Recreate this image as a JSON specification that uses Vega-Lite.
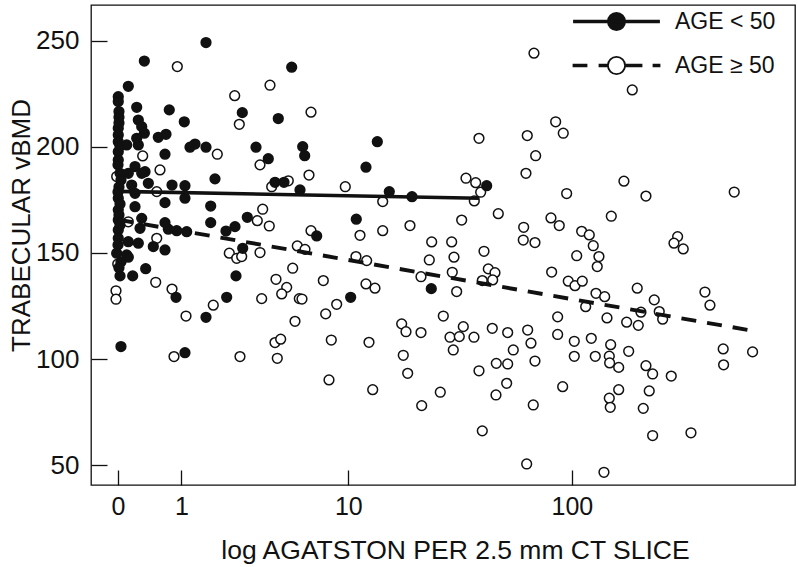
{
  "$schema": "https://vega.github.io/schema/vega-lite/v6.json",
  "width": 704,
  "height": 480,
  "autosize": {"type": "none"},
  "padding": {"left": 91, "top": 5, "right": 3, "bottom": 82},
  "background": "white",
  "config": {
    "view": {"stroke": "#111", "strokeWidth": 1.3},
    "font": "Liberation Sans",
    "axis": {"grid": false, "domain": false, "tickColor": "#111", "tickWidth": 1.3, "labelColor": "#111", "titleColor": "#111", "labelFont": "Liberation Sans", "titleFont": "Liberation Sans", "titleFontWeight": "normal"}
  },
  "datasets": {
    "fit": [
      {"agatston": 0, "vbmd": 179.0, "age": "AGE < 50"},
      {"agatston": 39.5, "vbmd": 175.8, "age": "AGE < 50"},
      {"agatston": 0, "vbmd": 165.7, "age": "AGE ≥ 50"},
      {"agatston": 595.6, "vbmd": 113.4, "age": "AGE ≥ 50"}
    ],
    "pts": [
      {"agatston": 0.317, "vbmd": 195.7, "age": "AGE ≥ 50"},
      {"agatston": 0.590, "vbmd": 189.1, "age": "AGE ≥ 50"},
      {"agatston": -0.015, "vbmd": 186.0, "age": "AGE ≥ 50"},
      {"agatston": 0.535, "vbmd": 178.9, "age": "AGE ≥ 50"},
      {"agatston": 0.123, "vbmd": 164.7, "age": "AGE ≥ 50"},
      {"agatston": 0.535, "vbmd": 156.9, "age": "AGE ≥ 50"},
      {"agatston": -0.003, "vbmd": 144.8, "age": "AGE ≥ 50"},
      {"agatston": 0.518, "vbmd": 136.2, "age": "AGE ≥ 50"},
      {"agatston": -0.023, "vbmd": 132.2, "age": "AGE ≥ 50"},
      {"agatston": -0.023, "vbmd": 128.2, "age": "AGE ≥ 50"},
      {"agatston": 0.914, "vbmd": 237.8, "age": "AGE ≥ 50"},
      {"agatston": 3.999, "vbmd": 229.0, "age": "AGE ≥ 50"},
      {"agatston": 2.485, "vbmd": 224.1, "age": "AGE ≥ 50"},
      {"agatston": 2.654, "vbmd": 210.6, "age": "AGE ≥ 50"},
      {"agatston": 1.912, "vbmd": 196.5, "age": "AGE ≥ 50"},
      {"agatston": 3.516, "vbmd": 191.5, "age": "AGE ≥ 50"},
      {"agatston": 5.017, "vbmd": 184.0, "age": "AGE ≥ 50"},
      {"agatston": 4.086, "vbmd": 181.2, "age": "AGE ≥ 50"},
      {"agatston": 3.641, "vbmd": 170.6, "age": "AGE ≥ 50"},
      {"agatston": 3.393, "vbmd": 165.2, "age": "AGE ≥ 50"},
      {"agatston": 3.963, "vbmd": 162.7, "age": "AGE ≥ 50"},
      {"agatston": 2.297, "vbmd": 149.9, "age": "AGE ≥ 50"},
      {"agatston": 2.558, "vbmd": 147.5, "age": "AGE ≥ 50"},
      {"agatston": 2.745, "vbmd": 148.3, "age": "AGE ≥ 50"},
      {"agatston": 3.516, "vbmd": 150.2, "age": "AGE ≥ 50"},
      {"agatston": 5.590, "vbmd": 153.3, "age": "AGE ≥ 50"},
      {"agatston": 5.291, "vbmd": 142.8, "age": "AGE ≥ 50"},
      {"agatston": 4.313, "vbmd": 137.6, "age": "AGE ≥ 50"},
      {"agatston": 4.921, "vbmd": 133.8, "age": "AGE ≥ 50"},
      {"agatston": 4.629, "vbmd": 130.7, "age": "AGE ≥ 50"},
      {"agatston": 3.594, "vbmd": 128.5, "age": "AGE ≥ 50"},
      {"agatston": 5.724, "vbmd": 128.5, "age": "AGE ≥ 50"},
      {"agatston": 0.809, "vbmd": 133.0, "age": "AGE ≥ 50"},
      {"agatston": 1.793, "vbmd": 125.4, "age": "AGE ≥ 50"},
      {"agatston": 1.099, "vbmd": 120.3, "age": "AGE ≥ 50"},
      {"agatston": 5.439, "vbmd": 117.8, "age": "AGE ≥ 50"},
      {"agatston": 4.259, "vbmd": 107.8, "age": "AGE ≥ 50"},
      {"agatston": 4.572, "vbmd": 109.4, "age": "AGE ≥ 50"},
      {"agatston": 0.848, "vbmd": 101.2, "age": "AGE ≥ 50"},
      {"agatston": 2.680, "vbmd": 101.2, "age": "AGE ≥ 50"},
      {"agatston": 4.383, "vbmd": 100.4, "age": "AGE ≥ 50"},
      {"agatston": 68.42, "vbmd": 244.1, "age": "AGE ≥ 50"},
      {"agatston": 6.565, "vbmd": 216.3, "age": "AGE ≥ 50"},
      {"agatston": 39.30, "vbmd": 204.0, "age": "AGE ≥ 50"},
      {"agatston": 63.97, "vbmd": 205.3, "age": "AGE ≥ 50"},
      {"agatston": 69.59, "vbmd": 195.8, "age": "AGE ≥ 50"},
      {"agatston": 63.14, "vbmd": 187.5, "age": "AGE ≥ 50"},
      {"agatston": 6.414, "vbmd": 186.7, "age": "AGE ≥ 50"},
      {"agatston": 9.670, "vbmd": 181.2, "age": "AGE ≥ 50"},
      {"agatston": 34.43, "vbmd": 185.2, "age": "AGE ≥ 50"},
      {"agatston": 38.01, "vbmd": 183.1, "age": "AGE ≥ 50"},
      {"agatston": 39.98, "vbmd": 178.6, "age": "AGE ≥ 50"},
      {"agatston": 37.47, "vbmd": 174.5, "age": "AGE ≥ 50"},
      {"agatston": 14.50, "vbmd": 174.2, "age": "AGE ≥ 50"},
      {"agatston": 47.78, "vbmd": 168.5, "age": "AGE ≥ 50"},
      {"agatston": 32.95, "vbmd": 165.5, "age": "AGE ≥ 50"},
      {"agatston": 61.70, "vbmd": 162.1, "age": "AGE ≥ 50"},
      {"agatston": 6.565, "vbmd": 160.5, "age": "AGE ≥ 50"},
      {"agatston": 11.36, "vbmd": 158.3, "age": "AGE ≥ 50"},
      {"agatston": 14.50, "vbmd": 160.5, "age": "AGE ≥ 50"},
      {"agatston": 19.33, "vbmd": 162.9, "age": "AGE ≥ 50"},
      {"agatston": 24.22, "vbmd": 155.2, "age": "AGE ≥ 50"},
      {"agatston": 29.75, "vbmd": 155.2, "age": "AGE ≥ 50"},
      {"agatston": 6.122, "vbmd": 151.7, "age": "AGE ≥ 50"},
      {"agatston": 61.45, "vbmd": 156.1, "age": "AGE ≥ 50"},
      {"agatston": 69.11, "vbmd": 154.9, "age": "AGE ≥ 50"},
      {"agatston": 41.35, "vbmd": 150.8, "age": "AGE ≥ 50"},
      {"agatston": 10.87, "vbmd": 148.3, "age": "AGE ≥ 50"},
      {"agatston": 12.21, "vbmd": 146.4, "age": "AGE ≥ 50"},
      {"agatston": 23.63, "vbmd": 146.7, "age": "AGE ≥ 50"},
      {"agatston": 30.46, "vbmd": 148.0, "age": "AGE ≥ 50"},
      {"agatston": 29.93, "vbmd": 140.9, "age": "AGE ≥ 50"},
      {"agatston": 21.68, "vbmd": 138.8, "age": "AGE ≥ 50"},
      {"agatston": 43.19, "vbmd": 142.5, "age": "AGE ≥ 50"},
      {"agatston": 46.21, "vbmd": 140.7, "age": "AGE ≥ 50"},
      {"agatston": 40.64, "vbmd": 137.0, "age": "AGE ≥ 50"},
      {"agatston": 45.15, "vbmd": 137.3, "age": "AGE ≥ 50"},
      {"agatston": 31.31, "vbmd": 131.8, "age": "AGE ≥ 50"},
      {"agatston": 7.561, "vbmd": 137.0, "age": "AGE ≥ 50"},
      {"agatston": 12.12, "vbmd": 135.4, "age": "AGE ≥ 50"},
      {"agatston": 13.35, "vbmd": 133.4, "age": "AGE ≥ 50"},
      {"agatston": 5.910, "vbmd": 128.3, "age": "AGE ≥ 50"},
      {"agatston": 8.790, "vbmd": 125.8, "age": "AGE ≥ 50"},
      {"agatston": 7.768, "vbmd": 121.3, "age": "AGE ≥ 50"},
      {"agatston": 27.30, "vbmd": 120.3, "age": "AGE ≥ 50"},
      {"agatston": 17.72, "vbmd": 116.6, "age": "AGE ≥ 50"},
      {"agatston": 18.54, "vbmd": 112.9, "age": "AGE ≥ 50"},
      {"agatston": 21.68, "vbmd": 112.5, "age": "AGE ≥ 50"},
      {"agatston": 33.50, "vbmd": 115.3, "age": "AGE ≥ 50"},
      {"agatston": 29.24, "vbmd": 110.3, "age": "AGE ≥ 50"},
      {"agatston": 32.16, "vbmd": 110.6, "age": "AGE ≥ 50"},
      {"agatston": 37.35, "vbmd": 110.3, "age": "AGE ≥ 50"},
      {"agatston": 44.97, "vbmd": 114.5, "age": "AGE ≥ 50"},
      {"agatston": 52.53, "vbmd": 112.5, "age": "AGE ≥ 50"},
      {"agatston": 64.23, "vbmd": 113.7, "age": "AGE ≥ 50"},
      {"agatston": 66.39, "vbmd": 107.5, "age": "AGE ≥ 50"},
      {"agatston": 55.58, "vbmd": 104.3, "age": "AGE ≥ 50"},
      {"agatston": 69.11, "vbmd": 99.1, "age": "AGE ≥ 50"},
      {"agatston": 30.24, "vbmd": 104.3, "age": "AGE ≥ 50"},
      {"agatston": 8.275, "vbmd": 109.0, "age": "AGE ≥ 50"},
      {"agatston": 12.52, "vbmd": 107.9, "age": "AGE ≥ 50"},
      {"agatston": 18.02, "vbmd": 101.8, "age": "AGE ≥ 50"},
      {"agatston": 18.87, "vbmd": 93.3, "age": "AGE ≥ 50"},
      {"agatston": 39.30, "vbmd": 94.5, "age": "AGE ≥ 50"},
      {"agatston": 46.83, "vbmd": 98.0, "age": "AGE ≥ 50"},
      {"agatston": 52.53, "vbmd": 97.7, "age": "AGE ≥ 50"},
      {"agatston": 52.00, "vbmd": 88.6, "age": "AGE ≥ 50"},
      {"agatston": 46.68, "vbmd": 83.1, "age": "AGE ≥ 50"},
      {"agatston": 67.94, "vbmd": 78.4, "age": "AGE ≥ 50"},
      {"agatston": 8.064, "vbmd": 90.2, "age": "AGE ≥ 50"},
      {"agatston": 13.03, "vbmd": 85.6, "age": "AGE ≥ 50"},
      {"agatston": 26.47, "vbmd": 84.4, "age": "AGE ≥ 50"},
      {"agatston": 21.84, "vbmd": 78.1, "age": "AGE ≥ 50"},
      {"agatston": 40.64, "vbmd": 66.2, "age": "AGE ≥ 50"},
      {"agatston": 63.59, "vbmd": 50.6, "age": "AGE ≥ 50"},
      {"agatston": 182.3, "vbmd": 226.8, "age": "AGE ≥ 50"},
      {"agatston": 85.02, "vbmd": 211.8, "age": "AGE ≥ 50"},
      {"agatston": 91.72, "vbmd": 206.4, "age": "AGE ≥ 50"},
      {"agatston": 167.8, "vbmd": 183.8, "age": "AGE ≥ 50"},
      {"agatston": 94.89, "vbmd": 178.0, "age": "AGE ≥ 50"},
      {"agatston": 208.8, "vbmd": 176.8, "age": "AGE ≥ 50"},
      {"agatston": 500.3, "vbmd": 178.7, "age": "AGE ≥ 50"},
      {"agatston": 148.0, "vbmd": 167.3, "age": "AGE ≥ 50"},
      {"agatston": 81.11, "vbmd": 166.5, "age": "AGE ≥ 50"},
      {"agatston": 88.13, "vbmd": 162.9, "age": "AGE ≥ 50"},
      {"agatston": 110.2, "vbmd": 160.2, "age": "AGE ≥ 50"},
      {"agatston": 118.9, "vbmd": 158.5, "age": "AGE ≥ 50"},
      {"agatston": 285.8, "vbmd": 157.7, "age": "AGE ≥ 50"},
      {"agatston": 275.6, "vbmd": 154.6, "age": "AGE ≥ 50"},
      {"agatston": 302.1, "vbmd": 151.9, "age": "AGE ≥ 50"},
      {"agatston": 123.7, "vbmd": 153.4, "age": "AGE ≥ 50"},
      {"agatston": 104.9, "vbmd": 148.7, "age": "AGE ≥ 50"},
      {"agatston": 130.9, "vbmd": 148.3, "age": "AGE ≥ 50"},
      {"agatston": 128.7, "vbmd": 143.6, "age": "AGE ≥ 50"},
      {"agatston": 81.68, "vbmd": 141.0, "age": "AGE ≥ 50"},
      {"agatston": 96.42, "vbmd": 136.7, "age": "AGE ≥ 50"},
      {"agatston": 103.1, "vbmd": 134.6, "age": "AGE ≥ 50"},
      {"agatston": 110.9, "vbmd": 136.7, "age": "AGE ≥ 50"},
      {"agatston": 127.1, "vbmd": 131.0, "age": "AGE ≥ 50"},
      {"agatston": 138.6, "vbmd": 129.4, "age": "AGE ≥ 50"},
      {"agatston": 114.7, "vbmd": 124.7, "age": "AGE ≥ 50"},
      {"agatston": 191.5, "vbmd": 133.4, "age": "AGE ≥ 50"},
      {"agatston": 226.7, "vbmd": 127.9, "age": "AGE ≥ 50"},
      {"agatston": 198.7, "vbmd": 122.1, "age": "AGE ≥ 50"},
      {"agatston": 238.2, "vbmd": 122.4, "age": "AGE ≥ 50"},
      {"agatston": 246.4, "vbmd": 118.8, "age": "AGE ≥ 50"},
      {"agatston": 374.5, "vbmd": 131.6, "age": "AGE ≥ 50"},
      {"agatston": 393.5, "vbmd": 125.4, "age": "AGE ≥ 50"},
      {"agatston": 141.8, "vbmd": 119.4, "age": "AGE ≥ 50"},
      {"agatston": 172.4, "vbmd": 117.4, "age": "AGE ≥ 50"},
      {"agatston": 193.5, "vbmd": 115.9, "age": "AGE ≥ 50"},
      {"agatston": 86.73, "vbmd": 119.9, "age": "AGE ≥ 50"},
      {"agatston": 86.73, "vbmd": 111.6, "age": "AGE ≥ 50"},
      {"agatston": 102.4, "vbmd": 108.4, "age": "AGE ≥ 50"},
      {"agatston": 121.3, "vbmd": 109.8, "age": "AGE ≥ 50"},
      {"agatston": 147.1, "vbmd": 106.8, "age": "AGE ≥ 50"},
      {"agatston": 175.9, "vbmd": 103.7, "age": "AGE ≥ 50"},
      {"agatston": 102.4, "vbmd": 101.3, "age": "AGE ≥ 50"},
      {"agatston": 126.2, "vbmd": 101.3, "age": "AGE ≥ 50"},
      {"agatston": 145.1, "vbmd": 101.4, "age": "AGE ≥ 50"},
      {"agatston": 145.6, "vbmd": 98.2, "age": "AGE ≥ 50"},
      {"agatston": 159.3, "vbmd": 96.1, "age": "AGE ≥ 50"},
      {"agatston": 208.8, "vbmd": 96.9, "age": "AGE ≥ 50"},
      {"agatston": 223.1, "vbmd": 93.0, "age": "AGE ≥ 50"},
      {"agatston": 268.3, "vbmd": 92.0, "age": "AGE ≥ 50"},
      {"agatston": 448.6, "vbmd": 104.8, "age": "AGE ≥ 50"},
      {"agatston": 599.8, "vbmd": 103.4, "age": "AGE ≥ 50"},
      {"agatston": 450.4, "vbmd": 97.3, "age": "AGE ≥ 50"},
      {"agatston": 91.18, "vbmd": 87.0, "age": "AGE ≥ 50"},
      {"agatston": 159.3, "vbmd": 85.6, "age": "AGE ≥ 50"},
      {"agatston": 145.1, "vbmd": 81.6, "age": "AGE ≥ 50"},
      {"agatston": 215.7, "vbmd": 85.0, "age": "AGE ≥ 50"},
      {"agatston": 146.5, "vbmd": 77.3, "age": "AGE ≥ 50"},
      {"agatston": 203.3, "vbmd": 76.8, "age": "AGE ≥ 50"},
      {"agatston": 223.1, "vbmd": 64.0, "age": "AGE ≥ 50"},
      {"agatston": 326.1, "vbmd": 65.3, "age": "AGE ≥ 50"},
      {"agatston": 137.6, "vbmd": 46.7, "age": "AGE ≥ 50"},
      {"agatston": 0.003, "vbmd": 223.6, "age": "AGE < 50"},
      {"agatston": 0.003, "vbmd": 221.3, "age": "AGE < 50"},
      {"agatston": 0.011, "vbmd": 216.6, "age": "AGE < 50"},
      {"agatston": 0.011, "vbmd": 213.9, "age": "AGE < 50"},
      {"agatston": 0.003, "vbmd": 208.7, "age": "AGE < 50"},
      {"agatston": 0.003, "vbmd": 205.6, "age": "AGE < 50"},
      {"agatston": 0.003, "vbmd": 202.4, "age": "AGE < 50"},
      {"agatston": 0.003, "vbmd": 197.7, "age": "AGE < 50"},
      {"agatston": 0.003, "vbmd": 193.8, "age": "AGE < 50"},
      {"agatston": 0.023, "vbmd": 187.5, "age": "AGE < 50"},
      {"agatston": 0.003, "vbmd": 175.8, "age": "AGE < 50"},
      {"agatston": 0.003, "vbmd": 170.3, "age": "AGE < 50"},
      {"agatston": 0.003, "vbmd": 165.5, "age": "AGE < 50"},
      {"agatston": 0.003, "vbmd": 160.8, "age": "AGE < 50"},
      {"agatston": 0.003, "vbmd": 156.9, "age": "AGE < 50"},
      {"agatston": -0.015, "vbmd": 149.9, "age": "AGE < 50"},
      {"agatston": 0.023, "vbmd": 139.2, "age": "AGE < 50"},
      {"agatston": 0.034, "vbmd": 105.9, "age": "AGE < 50"},
      {"agatston": 0.011, "vbmd": 211.2, "age": "AGE < 50"},
      {"agatston": 0.023, "vbmd": 200.4, "age": "AGE < 50"},
      {"agatston": 0, "vbmd": 191.5, "age": "AGE < 50"},
      {"agatston": 0.034, "vbmd": 184.4, "age": "AGE < 50"},
      {"agatston": 0.011, "vbmd": 181.1, "age": "AGE < 50"},
      {"agatston": 0, "vbmd": 178.7, "age": "AGE < 50"},
      {"agatston": 0.023, "vbmd": 173.1, "age": "AGE < 50"},
      {"agatston": 0.011, "vbmd": 167.9, "age": "AGE < 50"},
      {"agatston": 0.023, "vbmd": 163.2, "age": "AGE < 50"},
      {"agatston": 0, "vbmd": 153.8, "age": "AGE < 50"},
      {"agatston": 0.034, "vbmd": 145.8, "age": "AGE < 50"},
      {"agatston": 0.011, "vbmd": 143.0, "age": "AGE < 50"},
      {"agatston": 0.341, "vbmd": 240.4, "age": "AGE < 50"},
      {"agatston": 0.123, "vbmd": 228.5, "age": "AGE < 50"},
      {"agatston": 0.233, "vbmd": 218.6, "age": "AGE < 50"},
      {"agatston": 0.255, "vbmd": 212.6, "age": "AGE < 50"},
      {"agatston": 0.303, "vbmd": 209.5, "age": "AGE < 50"},
      {"agatston": 0.341, "vbmd": 206.4, "age": "AGE < 50"},
      {"agatston": 0.561, "vbmd": 204.5, "age": "AGE < 50"},
      {"agatston": 0.233, "vbmd": 204.0, "age": "AGE < 50"},
      {"agatston": 0.255, "vbmd": 200.9, "age": "AGE < 50"},
      {"agatston": 0.103, "vbmd": 200.9, "age": "AGE < 50"},
      {"agatston": 0.210, "vbmd": 190.7, "age": "AGE < 50"},
      {"agatston": 0.351, "vbmd": 188.3, "age": "AGE < 50"},
      {"agatston": 0.166, "vbmd": 182.0, "age": "AGE < 50"},
      {"agatston": 0.401, "vbmd": 182.8, "age": "AGE < 50"},
      {"agatston": 0.210, "vbmd": 178.1, "age": "AGE < 50"},
      {"agatston": 0.210, "vbmd": 171.8, "age": "AGE < 50"},
      {"agatston": 0.303, "vbmd": 166.3, "age": "AGE < 50"},
      {"agatston": 0.279, "vbmd": 161.6, "age": "AGE < 50"},
      {"agatston": 0.123, "vbmd": 155.3, "age": "AGE < 50"},
      {"agatston": 0.255, "vbmd": 154.6, "age": "AGE < 50"},
      {"agatston": 0.479, "vbmd": 153.0, "age": "AGE < 50"},
      {"agatston": 0.103, "vbmd": 149.1, "age": "AGE < 50"},
      {"agatston": 0.123, "vbmd": 148.0, "age": "AGE < 50"},
      {"agatston": 0.179, "vbmd": 139.2, "age": "AGE < 50"},
      {"agatston": 0.361, "vbmd": 142.6, "age": "AGE < 50"},
      {"agatston": 0.123, "vbmd": 187.5, "age": "AGE < 50"},
      {"agatston": 0.303, "vbmd": 187.5, "age": "AGE < 50"},
      {"agatston": 1.589, "vbmd": 249.1, "age": "AGE < 50"},
      {"agatston": 5.228, "vbmd": 237.5, "age": "AGE < 50"},
      {"agatston": 0.757, "vbmd": 217.4, "age": "AGE < 50"},
      {"agatston": 2.768, "vbmd": 216.1, "age": "AGE < 50"},
      {"agatston": 1.061, "vbmd": 211.8, "age": "AGE < 50"},
      {"agatston": 4.438, "vbmd": 213.3, "age": "AGE < 50"},
      {"agatston": 0.696, "vbmd": 205.9, "age": "AGE < 50"},
      {"agatston": 0.678, "vbmd": 196.5, "age": "AGE < 50"},
      {"agatston": 1.308, "vbmd": 201.3, "age": "AGE < 50"},
      {"agatston": 1.189, "vbmd": 199.8, "age": "AGE < 50"},
      {"agatston": 1.589, "vbmd": 199.8, "age": "AGE < 50"},
      {"agatston": 3.335, "vbmd": 199.8, "age": "AGE < 50"},
      {"agatston": 3.913, "vbmd": 194.4, "age": "AGE < 50"},
      {"agatston": 5.959, "vbmd": 200.1, "age": "AGE < 50"},
      {"agatston": 6.100, "vbmd": 195.8, "age": "AGE < 50"},
      {"agatston": 1.843, "vbmd": 184.9, "age": "AGE < 50"},
      {"agatston": 0.809, "vbmd": 182.0, "age": "AGE < 50"},
      {"agatston": 1.076, "vbmd": 181.7, "age": "AGE < 50"},
      {"agatston": 4.259, "vbmd": 183.3, "age": "AGE < 50"},
      {"agatston": 4.761, "vbmd": 183.3, "age": "AGE < 50"},
      {"agatston": 5.772, "vbmd": 179.7, "age": "AGE < 50"},
      {"agatston": 0.678, "vbmd": 173.7, "age": "AGE < 50"},
      {"agatston": 1.076, "vbmd": 175.8, "age": "AGE < 50"},
      {"agatston": 1.719, "vbmd": 172.1, "age": "AGE < 50"},
      {"agatston": 2.966, "vbmd": 166.8, "age": "AGE < 50"},
      {"agatston": 1.719, "vbmd": 164.3, "age": "AGE < 50"},
      {"agatston": 0.678, "vbmd": 164.3, "age": "AGE < 50"},
      {"agatston": 0.739, "vbmd": 161.2, "age": "AGE < 50"},
      {"agatston": 0.902, "vbmd": 160.5, "age": "AGE < 50"},
      {"agatston": 1.114, "vbmd": 160.0, "age": "AGE < 50"},
      {"agatston": 2.496, "vbmd": 162.4, "age": "AGE < 50"},
      {"agatston": 2.186, "vbmd": 160.3, "age": "AGE < 50"},
      {"agatston": 0.678, "vbmd": 151.4, "age": "AGE < 50"},
      {"agatston": 2.784, "vbmd": 152.2, "age": "AGE < 50"},
      {"agatston": 2.532, "vbmd": 139.2, "age": "AGE < 50"},
      {"agatston": 0.888, "vbmd": 129.1, "age": "AGE < 50"},
      {"agatston": 2.209, "vbmd": 129.1, "age": "AGE < 50"},
      {"agatston": 1.589, "vbmd": 119.7, "age": "AGE < 50"},
      {"agatston": 1.076, "vbmd": 103.0, "age": "AGE < 50"},
      {"agatston": 13.69, "vbmd": 202.4, "age": "AGE < 50"},
      {"agatston": 12.12, "vbmd": 190.4, "age": "AGE < 50"},
      {"agatston": 42.49, "vbmd": 181.7, "age": "AGE < 50"},
      {"agatston": 15.55, "vbmd": 178.9, "age": "AGE < 50"},
      {"agatston": 19.74, "vbmd": 176.5, "age": "AGE < 50"},
      {"agatston": 10.91, "vbmd": 165.9, "age": "AGE < 50"},
      {"agatston": 7.011, "vbmd": 158.0, "age": "AGE < 50"},
      {"agatston": 24.12, "vbmd": 133.2, "age": "AGE < 50"},
      {"agatston": 10.26, "vbmd": 129.1, "age": "AGE < 50"}
    ]
  },
  "layer": [
    {
      "data": {"name": "pts"},
      "mark": {"type": "point", "shape": "circle", "filled": true, "opacity": 1, "stroke": "#111", "strokeWidth": 1.5, "size": 95},
      "encoding": {
        "x": {
          "field": "agatston", "type": "quantitative",
          "scale": {"type": "symlog", "constant": 1.15, "domain": [-0.351, 912], "nice": false, "zero": false},
          "axis": {"title": "log AGATSTON PER 2.5 mm CT SLICE", "values": [0, 1, 10, 100], "format": "d", "tickSize": -15, "labelFontSize": 25, "labelPadding": 24, "labelFlush": false, "titleFontSize": 26.5, "titleX": 364, "titleY": 73, "titleAlign": "center", "titleBaseline": "alphabetic"}
        },
        "y": {
          "field": "vbmd", "type": "quantitative",
          "scale": {"domain": [40.7, 266.8], "nice": false, "zero": false},
          "axis": {"title": "TRABECULAR vBMD", "values": [50, 100, 150, 200, 250], "format": "d", "tickSize": -16, "labelFontSize": 26, "labelPadding": 28, "titleFontSize": 26, "titleX": -62, "titleY": 220, "titleAngle": -90, "titleAlign": "center", "titleBaseline": "alphabetic"}
        },
        "fill": {
          "field": "age", "type": "nominal",
          "scale": {"domain": ["AGE < 50", "AGE ≥ 50"], "range": ["#111", "white"]},
          "legend": {
            "title": null, "orient": "none", "legendX": 514, "legendY": 5,
            "symbolSize": 400, "symbolStrokeWidth": 1.8, "symbolStrokeColor": "#111", "symbolOpacity": 1,
            "labelFontSize": 23, "labelFont": "Liberation Sans", "labelColor": "#111", "labelOffset": 47,
            "rowPadding": 19, "padding": 0,
            "encode": {"symbols": {"update": {
              "shape": {"signal": "datum.value === 'AGE < 50' ? 'M-4.25,-0.09H4.25V0.09H-4.25Z M0.86,0A0.86,0.86,0,0,1,0,0.86A0.86,0.86,0,0,1,-0.86,0A0.86,0.86,0,0,1,0,-0.86A0.86,0.86,0,0,1,0.86,0Z' : 'M-4.3,-0.09H-3V0.09H-4.3Z M-1.7,-0.09H-0.95V0.09H-1.7Z M0.95,-0.09H2.5V0.09H0.95Z M3.7,-0.09H4.3V0.09H3.7Z M0.86,0A0.86,0.86,0,0,1,0,0.86A0.86,0.86,0,0,1,-0.86,0A0.86,0.86,0,0,1,0,-0.86A0.86,0.86,0,0,1,0.86,0Z'"},
              "stroke": {"value": "#111"}, "strokeWidth": {"value": 1.8}
            }}}
          }
        }
      }
    },
    {
      "data": {"name": "fit"},
      "transform": [{"filter": "datum.age === 'AGE < 50'"}],
      "mark": {"type": "line", "stroke": "#111", "strokeWidth": 3.6},
      "encoding": {
        "x": {"field": "agatston", "type": "quantitative"},
        "y": {"field": "vbmd", "type": "quantitative"}
      }
    },
    {
      "data": {"name": "fit"},
      "transform": [{"filter": "datum.age === 'AGE ≥ 50'"}],
      "mark": {"type": "line", "stroke": "#111", "strokeWidth": 3.9, "strokeDash": [15, 11]},
      "encoding": {
        "x": {"field": "agatston", "type": "quantitative"},
        "y": {"field": "vbmd", "type": "quantitative"}
      }
    }
  ]
}
